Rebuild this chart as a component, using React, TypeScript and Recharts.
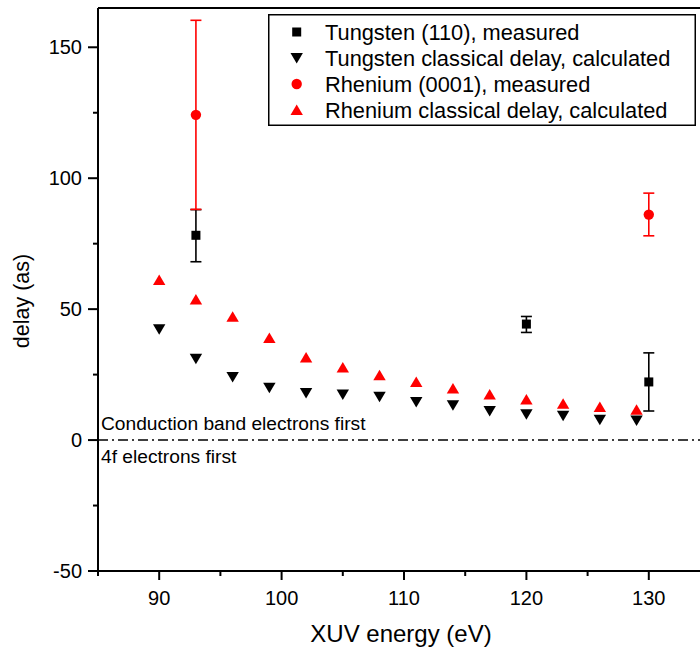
import { ScatterChart, Scatter, XAxis, YAxis, ReferenceLine, Label, Legend, ErrorBar } from 'recharts'

const FONT = '"Liberation Sans", Arial, sans-serif'

// calculated classical delays, same energies for both metals
const classicalEnergy = [90, 93, 96, 99, 102, 105, 108, 111, 114, 117, 120, 123, 126, 129]
const tungstenClassical = [42.3, 31.1, 24.1, 20.0, 18.0, 17.4, 16.5, 14.5, 13.3, 11.1, 9.9, 9.3, 7.8, 7.5]
const rheniumClassical = [61.1, 53.7, 47.1, 39.0, 31.5, 27.7, 24.8, 22.2, 19.7, 17.4, 15.5, 13.9, 12.6, 11.6]

// measurements with error range
const tungstenEnergy = [93, 120, 130]
const tungstenMeasured = [78.2, 44.3, 22.2]
const tungstenLow = [68.1, 41.1, 11.1]
const tungstenHigh = [88.0, 47.2, 33.3]

const rheniumEnergy = [93, 130]
const rheniumMeasured = [124.2, 86.1]
const rheniumLow = [88.1, 78.0]
const rheniumHigh = [160.3, 94.3]

const xTicks = [85, 90, 95, 100, 105, 110, 115, 120, 125, 130, 135]
const xMajor = [90, 100, 110, 120, 130]
const yTicks = [-50, -25, 0, 25, 50, 75, 100, 125, 150]
const yMajor = [-50, 0, 50, 100, 150]

const legendNames = [
  'Tungsten (110), measured',
  'Tungsten classical delay, calculated',
  'Rhenium (0001), measured',
  'Rhenium classical delay, calculated',
]

const tungstenClassicalData = classicalEnergy.map((x, i) => ({ x, y: tungstenClassical[i] }))
const rheniumClassicalData = classicalEnergy.map((x, i) => ({ x, y: rheniumClassical[i] }))
const tungstenData = tungstenEnergy.map((x, i) => ({
  x, y: tungstenMeasured[i], err: [tungstenMeasured[i] - tungstenLow[i], tungstenHigh[i] - tungstenMeasured[i]],
}))
const rheniumData = rheniumEnergy.map((x, i) => ({
  x, y: rheniumMeasured[i], err: [rheniumMeasured[i] - rheniumLow[i], rheniumHigh[i] - rheniumMeasured[i]],
}))

const square = (cx: number, cy: number, fill: string) => (
  <rect x={cx - 4.5} y={cy - 4.5} width={9} height={9} fill={fill} />
)
const downTri = (cx: number, cy: number, fill: string) => (
  <polygon points={`${cx - 6.2},${cy - 5} ${cx + 6.2},${cy - 5} ${cx},${cy + 5.5}`} fill={fill} />
)
const circle = (cx: number, cy: number, fill: string) => <circle cx={cx} cy={cy} r={5.2} fill={fill} />
const upTri = (cx: number, cy: number, fill: string) => (
  <polygon points={`${cx},${cy - 5.5} ${cx - 6.2},${cy + 5} ${cx + 6.2},${cy + 5}`} fill={fill} />
)

const markers = [
  (cx: number, cy: number) => square(cx, cy, '#000'),
  (cx: number, cy: number) => downTri(cx, cy, '#000'),
  (cx: number, cy: number) => circle(cx, cy, '#ff0000'),
  (cx: number, cy: number) => upTri(cx, cy, '#ff0000'),
]

const XTick = (props: any) => {
  const { x, y, payload } = props
  const major = xMajor.includes(payload.value)
  return (
    <g>
      <line x1={x} x2={x} y1={y} y2={y + (major ? 9 : 5)} stroke="#000" strokeWidth={2} />
      {major && (
        <text x={x} y={y + 33.5} textAnchor="middle" fontSize={20} fontFamily={FONT} fill="#000">
          {payload.value}
        </text>
      )}
    </g>
  )
}

const YTick = (props: any) => {
  const { x, y, payload } = props
  const major = yMajor.includes(payload.value)
  return (
    <g>
      <line x1={x - (major ? 10 : 5)} x2={x} y1={y} y2={y} stroke="#000" strokeWidth={2} />
      {major && (
        <text x={x - 16} y={y + 7.2} textAnchor="end" fontSize={20} fontFamily={FONT} fill="#000">
          {payload.value}
        </text>
      )}
    </g>
  )
}

const LegendBox = () => (
  <svg width={428} height={112} style={{ display: 'block' }}>
    <rect x={0.75} y={0.75} width={426.5} height={110.5} fill="#fff" stroke="#000" strokeWidth={1.5} />
    {legendNames.map((name, i) => {
      const cy = 18 + i * 26
      return (
        <g key={name}>
          {markers[i](28.7, cy)}
          <text x={57} y={cy + 7.5} fontSize={21.8} fontFamily={FONT} fill="#000">{name}</text>
        </g>
      )
    })}
  </svg>
)

export default function App() {
  return (
    <div style={{ position: 'absolute', left: 0, top: 0, width: 700, height: 650, overflow: 'hidden', background: '#fff' }}>
      <ScatterChart width={720} height={650} margin={{ top: 8, right: 10, bottom: 0, left: 0 }}>
        <XAxis
          type="number"
          dataKey="x"
          domain={[85, 135]}
          ticks={xTicks}
          interval={0}
          height={79}
          tickSize={0}
          tickMargin={0}
          tickLine={false}
          axisLine={{ stroke: '#000', strokeWidth: 2 }}
          tick={<XTick />}
          allowDataOverflow
        >
          <Label
            content={(p: any) => (
              <text x={p.viewBox.x + p.viewBox.width / 2 - 3} y={641.5} textAnchor="middle" fontSize={24} fontFamily={FONT} fill="#000">
                XUV energy (eV)
              </text>
            )}
          />
        </XAxis>
        <YAxis
          type="number"
          dataKey="y"
          domain={[-50, 165]}
          ticks={yTicks}
          interval={0}
          width={98}
          tickSize={0}
          tickMargin={0}
          tickLine={false}
          axisLine={{ stroke: '#000', strokeWidth: 2 }}
          tick={<YTick />}
          allowDataOverflow
        />
        <ReferenceLine y={165} stroke="#000" strokeWidth={2}>
          <Label
            content={(p: any) => {
              const cx = p.viewBox.x - 69
              const cy = 301
              return (
                <g transform={`translate(${cx} ${cy}) rotate(-90)`}>
                  <text x={0} y={0} textAnchor="middle" fontSize={21.5} fontFamily={FONT} fill="#000">
                    delay (as)
                  </text>
                </g>
              )
            }}
          />
        </ReferenceLine>
        <ReferenceLine y={0} stroke="#000" strokeWidth={1.5} strokeDasharray="10 4 2 4">
          <Label
            content={(p: any) => (
              <text x={p.viewBox.x + 3} y={p.viewBox.y - 10} fontSize={19.2} fontFamily={FONT} fill="#000">
                Conduction band electrons first
              </text>
            )}
          />
          <Label
            content={(p: any) => (
              <text x={p.viewBox.x + 3} y={p.viewBox.y + 22.7} fontSize={19.2} fontFamily={FONT} fill="#000">
                4f electrons first
              </text>
            )}
          />
        </ReferenceLine>
        <Legend
          layout="vertical"
          align="center"
          verticalAlign="middle"
          content={() => <LegendBox />}
          wrapperStyle={{ position: 'absolute', left: 268, top: 14, width: 428, height: 112 }}
        />
        <Scatter
          name={legendNames[0]}
          data={tungstenData}
          isAnimationActive={false}
          shape={(p: any) => markers[0](p.cx, p.cy)}
        >
          <ErrorBar dataKey="err" direction="y" width={5.5} stroke="#000" strokeWidth={1.6} isAnimationActive={false} />
        </Scatter>
        <Scatter
          name={legendNames[1]}
          data={tungstenClassicalData}
          isAnimationActive={false}
          shape={(p: any) => markers[1](p.cx, p.cy)}
        />
        <Scatter
          name={legendNames[2]}
          data={rheniumData}
          isAnimationActive={false}
          shape={(p: any) => markers[2](p.cx, p.cy)}
        >
          <ErrorBar dataKey="err" direction="y" width={5.5} stroke="#ff0000" strokeWidth={1.6} isAnimationActive={false} />
        </Scatter>
        <Scatter
          name={legendNames[3]}
          data={rheniumClassicalData}
          isAnimationActive={false}
          shape={(p: any) => markers[3](p.cx, p.cy)}
        />
      </ScatterChart>
    </div>
  )
}
